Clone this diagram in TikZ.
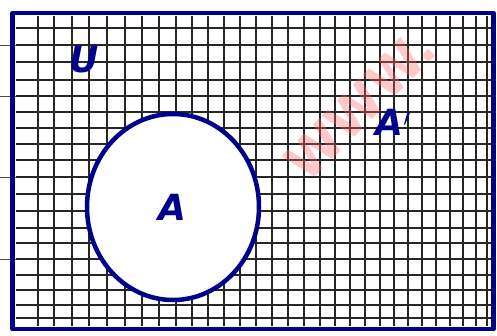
\documentclass[tikz,border=0pt]{standalone}
\usepackage{fontspec}
\setmainfont{DejaVu Sans}
\usetikzlibrary{shapes.geometric}
\begin{document}
\begin{tikzpicture}[x=1pt,y=-1pt,
  pen/.style={draw=blue!55!black,line width=4.5pt,line join=round},
  gridline/.style={draw=black!85,line width=1.1pt},
  lbl/.style={text=blue!55!black,font=\bfseries\itshape\fontsize{36}{36}\selectfont}]
\useasboundingbox (0,0) rectangle (497,336);
\fill[white] (0,0) rectangle (497,336);
% notebook lines outside
\foreach \y in {45,96,177,259} \draw[black!70,line width=0.8pt] (0,\y) -- (20,\y);
% grid
\foreach \x in {38,54,72,89,107,125,142,159,176,192,208,224,240,256,272,288,304,320,335,350,365,380,394,408,422,436,450,463,476,487}
  \draw[gridline] (\x,16) -- (\x,326);
\foreach \y in {28,45,62,80,96,112,128,144,160,177,194,211,228,243,259,275,290,305,318}
  \draw[gridline] (16,\y) -- (493,\y);
% watermark
\node[text=red!60,opacity=0.35,rotate=45,font=\bfseries\fontsize{52}{52}\selectfont] (wm) at (360,105) {WWW.};
% set A
\node[pen,fill=white,ellipse,minimum width=172pt,minimum height=186pt,inner sep=0pt] (A) at (173,207) {};
% universe
\node[pen,rectangle,minimum width=481pt,minimum height=316pt,inner sep=0pt] (U) at (253,171) {};
\node[lbl] (uL) at (84,60) {U};
\node[lbl] (aL) at (172,207) {A};
\node[lbl] (apL) at (393,122) {A$'$};
\end{tikzpicture}
\end{document}
